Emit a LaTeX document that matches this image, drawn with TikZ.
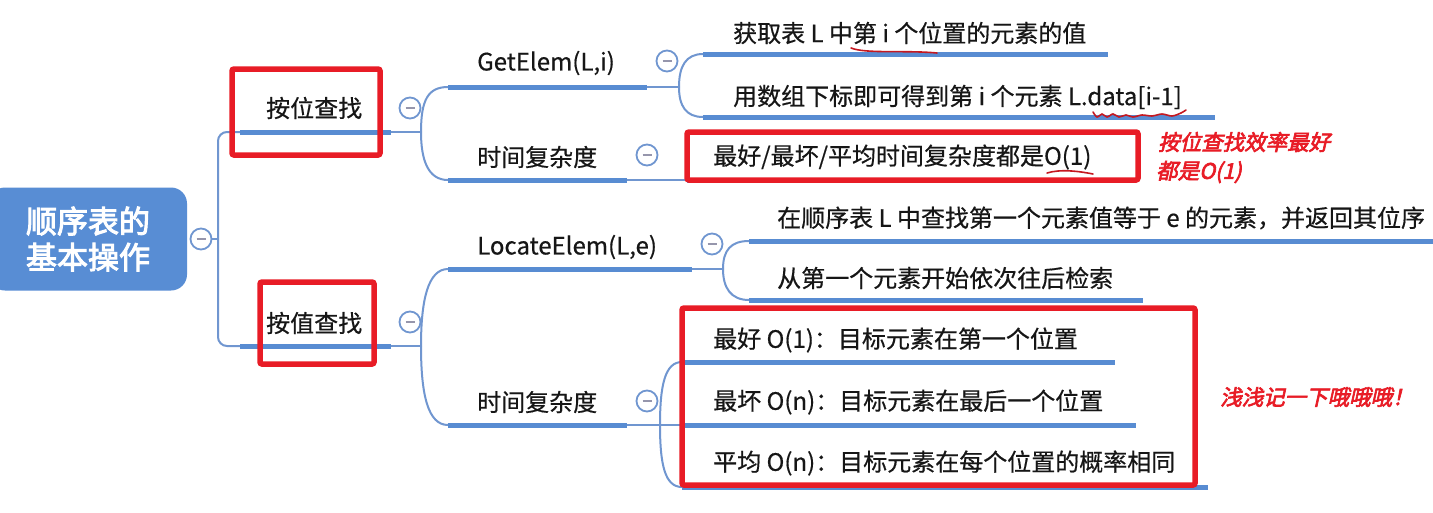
\documentclass[tikz,border=0pt]{standalone}
\usepackage{fontspec}
\setmainfont[FakeBold=0.5]{Noto Sans CJK SC}
\newfontfamily\rootfont[FakeBold=3.2]{Noto Sans CJK SC}
\newfontfamily\annotfont[FakeBold=3,FakeSlant=0.22]{Noto Sans CJK SC}
\definecolor{rootblue}{RGB}{88,141,212}
\definecolor{barblue}{RGB}{88,140,210}
\definecolor{linkblue}{RGB}{112,150,208}
\definecolor{redc}{RGB}{232,28,38}
\definecolor{dashgray}{RGB}{150,150,172}
\definecolor{txtc}{RGB}{22,22,22}
\begin{document}
\begin{tikzpicture}[x=1pt,y=-1pt,
  bar/.style={draw=barblue, line width=5pt},
  link/.style={draw=linkblue, line width=2pt},
  minusc/.style={circle, draw=linkblue, line width=1.8pt, fill=white, minimum size=21pt, inner sep=0pt,
    path picture={\draw[dashgray, line width=2pt] ([xshift=-4.5pt]path picture bounding box.center) -- ([xshift=4.5pt]path picture bounding box.center);}},
  txt/.style={anchor=west, inner sep=0pt, text=txtc, font=\fontsize{24}{27}\selectfont},
  redbox/.style={draw=redc, line width=5.5pt, rounded corners=2pt},
  annot/.style={anchor=west, inner sep=0pt, text=redc, font=\annotfont\fontsize{21.5}{25}\selectfont},
  redpen/.style={draw=redc!85!black, line width=1.6pt, line cap=round}
]
\useasboundingbox (0,0) rectangle (1433,512);
\fill[white] (0,0) rectangle (1433,512);

% ---------- root ----------
\node[fill=rootblue, rounded corners=16pt, minimum width=198pt, minimum height=103pt,
      text=white, align=center, font=\rootfont\fontsize{31}{36}\selectfont] (root) at (88,239) {顺序表的\\基本操作};
\node[minusc] (c0) at (201,239) {};

% ---------- coordinates ----------
\coordinate (T) at (218,239);
\coordinate (A1) at (240,132); \coordinate (A2) at (391,132); \coordinate (AJ) at (421,132);
\coordinate (B1) at (240,346); \coordinate (B2) at (391,346); \coordinate (BJ) at (421,346);

\coordinate (G1) at (448,87);  \coordinate (G2) at (647,87);  \coordinate (GJ) at (679,87);
\coordinate (H1) at (448,180); \coordinate (H2) at (627,180);
\coordinate (G11) at (703,54);  \coordinate (G12) at (1108,54);
\coordinate (G21) at (703,117); \coordinate (G22) at (1215,117);
\coordinate (H11) at (687,180); \coordinate (H12) at (1127,180);

\coordinate (L1) at (448,269); \coordinate (L2) at (692,269); \coordinate (LJ) at (723,269);
\coordinate (K1) at (448,425); \coordinate (K2) at (627,425); \coordinate (KJ) at (660,425);
\coordinate (L11) at (749,241); \coordinate (L12) at (1440,241);
\coordinate (L21) at (749,300); \coordinate (L22) at (1143,300);
\coordinate (K11) at (682,362); \coordinate (K12) at (1115,362);
\coordinate (K21) at (682,425); \coordinate (K22) at (1136,425);
\coordinate (K31) at (682,487); \coordinate (K32) at (1208,487);

% ---------- connectors ----------
\draw[link] (c0.east) -- (T);
\draw[link, rounded corners=9pt] (A1) -- (A1 -| T) -- (B1 -| T) -- (B1);

\draw[link] (A2) -- (AJ);
\draw[link] (AJ) .. controls (AJ |- 100,100) and (428,87) .. (G1);
\draw[link] (AJ) .. controls (AJ |- 160,160) and (428,180) .. (H1);
\draw[link] (B2) -- (BJ);
\draw[link] (BJ) .. controls (BJ |- 300,300) and (428,269) .. (L1);
\draw[link] (BJ) .. controls (BJ |- 395,395) and (428,425) .. (K1);

\draw[link] (G2) -- (GJ);
\draw[link] (GJ) .. controls (679,66) and (686,54) .. (G11);
\draw[link] (GJ) .. controls (679,106) and (686,117) .. (G21);
\draw[link] (H2) -- (H11);

\draw[link] (L2) -- (LJ);
\draw[link] (LJ) .. controls (723,250) and (731,241) .. (L11);
\draw[link] (LJ) .. controls (723,288) and (731,300) .. (L21);

\draw[link] (K2) -- (KJ) -- (K21);
\draw[link] (KJ) .. controls (660,385) and (665,362) .. (K11);
\draw[link] (KJ) .. controls (660,465) and (665,487) .. (K31);

% ---------- bars ----------
\draw[bar] (A1) -- (A2);
\draw[bar] (B1) -- (B2);
\draw[bar] (G1) -- (G2);
\draw[bar] (H1) -- (H2);
\draw[bar] (G11) -- (G12);
\draw[bar] (G21) -- (G22);
\draw[bar] (H11) -- (H12);
\draw[bar] (L1) -- (L2);
\draw[bar] (K1) -- (K2);
\draw[bar] (L11) -- (L12);
\draw[bar] (L21) -- (L22);
\draw[bar] (K11) -- (K12);
\draw[bar] (K21) -- (K22);
\draw[bar] (K31) -- (K32);

% ---------- collapse circles ----------
\node[minusc] (cA) at (410,108) {};
\node[minusc] (cB) at (410,322) {};
\node[minusc] (cG) at (667,61) {};
\node[minusc] (cH) at (647,155) {};
\node[minusc] (cL) at (712,244) {};
\node[minusc] (cK) at (647,401) {};

% ---------- texts ----------
\node[txt] (tA) at (266,108) {按位查找};
\node[txt] (tB) at (266,323) {按值查找};
\node[txt] (tG) at (477,63) {GetElem(L,i)};
\node[txt] (tH) at (477,157) {时间复杂度};
\node[txt] (tG1) at (733,33) {获取表 L 中第 i 个位置的元素的值};
\node[txt] (tG2) at (733,97) {用数组下标即可得到第 i 个元素 L.data[i-1]};
\node[txt] (tH1) at (713,157) {最好/最坏/平均时间复杂度都是O(1)};
\node[txt] (tL) at (477,247) {LocateElem(L,e)};
\node[txt] (tK) at (477,402) {时间复杂度};
\node[txt] (tL1) at (777,218) {在顺序表 L 中查找第一个元素值等于 e 的元素，并返回其位序};
\node[txt] (tL2) at (777,278) {从第一个元素开始依次往后检索};
\node[txt] (tK1) at (713,340) {最好 O(1)：目标元素在第一个位置};
\node[txt] (tK2) at (713,402) {最坏 O(n)：目标元素在最后一个位置};
\node[txt] (tK3) at (713,463) {平均 O(n)：目标元素在每个位置的概率相同};

% ---------- red highlight boxes ----------
\draw[redbox] (232,69) rectangle (380,155);
\draw[redbox] (260,282) rectangle (374,364);
\draw[redbox] (687,132) rectangle (1138,180);
\draw[redbox] (682,308) rectangle (1195,485);

% ---------- handwritten marks ----------
\draw[redpen] (851,48) .. controls (866,54) and (905,50) .. (937,53);
\draw[redpen] plot[smooth] coordinates {(1093,112) (1097,117) (1102,114) (1107,117) (1113,114) (1119,117) (1126,115) (1133,117) (1142,115) (1152,116) (1162,114) (1172,116) (1181,113) (1186,110)};
\draw[redpen] (1047,173) .. controls (1060,169) and (1078,171) .. (1093,174);

% ---------- annotations ----------
\node[annot] (n1) at (1158,142) {按位查找效率最好};
\node[annot] (n2) at (1156,172) {都是O(1)};
\node[annot] (n3) at (1220,397) {浅浅记一下哦哦哦！};
\end{tikzpicture}
\end{document}
